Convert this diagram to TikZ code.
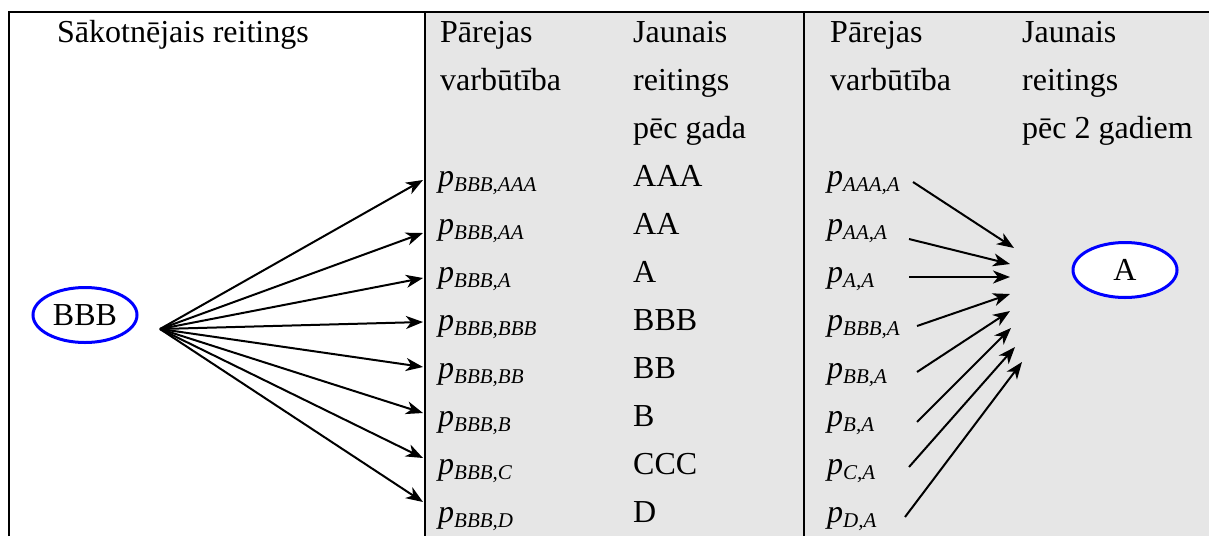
\documentclass[tikz,border=0pt]{standalone}
\usepackage{fontspec}
\setmainfont{Liberation Serif}
\usetikzlibrary{shapes.geometric,arrows.meta}
\definecolor{panelgray}{HTML}{E6E6E6}
% transition probability p with an italic subscript
\newcommand{\prob}[1]{\textit{p}\raisebox{-5pt}{\fontsize{21}{21}\selectfont\itshape #1}}

\begin{document}
\begin{tikzpicture}[x=1pt,y=-1pt,
  txt/.style={anchor=base west,inner sep=0pt,font=\fontsize{32}{38}\selectfont},
  rating/.style={ellipse,draw=blue,line width=3pt,fill=white,minimum width=104pt,
    minimum height=55pt,inner sep=0pt,font=\fontsize{32}{38}\selectfont},
  flow/.style={line width=2pt,-{Stealth[length=17pt,width=13pt,inset=5pt]}},
  frame/.style={line width=2pt}]
\useasboundingbox (0,0) rectangle (1209,536);

% shaded columns and frame
\fill[panelgray] (425,12) rectangle (1209,536);
\draw[frame] (9,536) -- (9,12) -- (1209,12);
\draw[frame] (425,12) -- (425,536);
\draw[frame] (804,12) -- (804,536);

% column headings
\node[txt] (h1) at (57,42) {Sākotnējais reitings};
\node[txt] (h2a) at (440,42) {Pārejas};
\node[txt] (h2b) at (440,90) {varbūtība};
\node[txt] (h3a) at (633,42) {Jaunais};
\node[txt] (h3b) at (633,90) {reitings};
\node[txt] (h3c) at (633,138) {pēc gada};
\node[txt] (h4a) at (830,42) {Pārejas};
\node[txt] (h4b) at (830,90) {varbūtība};
\node[txt] (h5a) at (1022,42) {Jaunais};
\node[txt] (h5b) at (1022,90) {reitings};
\node[txt] (h5c) at (1022,138) {pēc 2 gadiem};

% initial rating and fan-out
\node[rating] (bbb) at (85,315) {BBB};
\coordinate (fan) at (160,329);

\foreach \sub/\lab/\yb/\ya [count=\i] in {
    BBB{,}AAA/AAA/186/180, BBB{,}AA/AA/234/233, BBB{,}A/A/282/278,
    BBB{,}BBB/BBB/330/322, BBB{,}BB/BB/378/367, BBB{,}B/B/426/413,
    BBB{,}C/CCC/474/458, BBB{,}D/D/522/502}{
  \node[txt] (p\i) at (438,\yb) {\prob{\sub}};
  \node[txt] (r\i) at (633,\yb) {\lab};
  \coordinate (t\i) at (423,\ya);
  \draw[flow] (fan) -- (t\i);
}

% second-year probabilities converging on A
\node[rating] (a) at (1125,270) {A};
\foreach \sub/\yb/\sx/\sy/\tx/\ty [count=\i] in {
    AAA{,}A/186/913/182/1014/248, AA{,}A/234/909/239/1010/264,
    A{,}A/282/909/277/1010/277, BBB{,}A/330/917/326/1010/294,
    BB{,}A/378/917/372/1010/311, B{,}A/426/917/422/1011/328,
    C{,}A/474/909/467/1015/347, D{,}A/522/905/517/1022/362}{
  \node[txt] (q\i) at (827,\yb) {\prob{\sub}};
  \coordinate (s\i) at (\sx,\sy);
  \coordinate (e\i) at (\tx,\ty);
  \draw[flow] (s\i) -- (e\i);
}
\end{tikzpicture}
\end{document}
